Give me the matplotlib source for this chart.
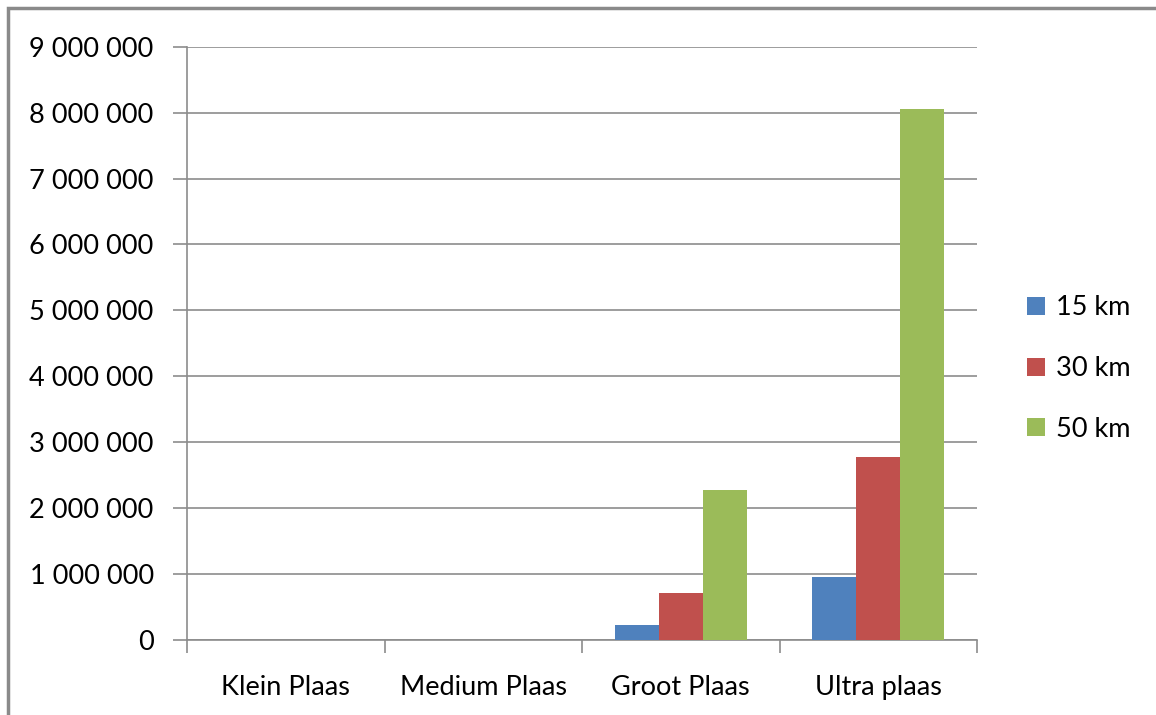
import matplotlib
matplotlib.use("Agg")
import matplotlib.pyplot as plt
import numpy as np
from matplotlib.patches import Rectangle
from matplotlib.ticker import FuncFormatter

categories = ["Klein Plaas", "Medium Plaas", "Groot Plaas", "Ultra plaas"]
series_names = ["15 km", "30 km", "50 km"]
v15 = [0, 0, 230000, 950000]
v30 = [0, 0, 710000, 2780000]
v50 = [0, 0, 2270000, 8050000]
colors = ["#4F81BD", "#C0504D", "#9BBB59"]

plt.rcParams['font.family'] = ['Lato', 'DejaVu Sans']

W, H = 1156, 715
fig = plt.figure(figsize=(W/100, H/100), dpi=100)
ax = fig.add_axes([187/W, 1 - 640/H, (977-187)/W, (640-46.7)/H])

x = np.arange(len(categories))
bw = 1/4.5
for i, (vals, c, name) in enumerate(zip([v15, v30, v50], colors, series_names)):
    ax.bar(x + (i-1)*bw, vals, width=bw, color=c, label=name, zorder=3, linewidth=0)

FS = 19.5
ax.set_xlim(-0.5, 3.5)
ax.set_ylim(0, 9000000)
ax.set_yticks(np.arange(0, 9000001, 1000000))
ax.yaxis.set_major_formatter(FuncFormatter(lambda v, p: f"{int(v):,}".replace(",", " ")))
ax.grid(axis='y', color='#8C8C8C', linewidth=1.2, zorder=0)
ax.set_xticks(x)
ax.set_xticklabels(categories)
ax.set_xticks(np.arange(-0.5, 3.6, 1), minor=True)
ax.tick_params(axis='x', which='major', length=0, pad=25, labelsize=FS, colors='#000000')
ax.tick_params(axis='x', which='minor', length=9, width=1.2, color='#8C8C8C')
ax.tick_params(axis='y', length=10, width=1.2, color='#8C8C8C', labelsize=FS, pad=14)
for s in ['top', 'right']:
    ax.spines[s].set_visible(False)
for s in ['left', 'bottom']:
    ax.spines[s].set_color('#8C8C8C')
    ax.spines[s].set_linewidth(1.2)

leg = fig.legend(loc='upper left', bbox_to_anchor=(1003/W, 1 - 271/H), frameon=False,
                 fontsize=FS, handlelength=0.65, handleheight=0.65, handletextpad=0.4,
                 labelspacing=1.32)

fig.patches.append(Rectangle((8/W, -0.1), 1.2, 1 - 8/H + 0.1, transform=fig.transFigure,
                             fill=False, edgecolor='#8A8A8A', linewidth=2.5))

fig.savefig("out.png", dpi=100)
